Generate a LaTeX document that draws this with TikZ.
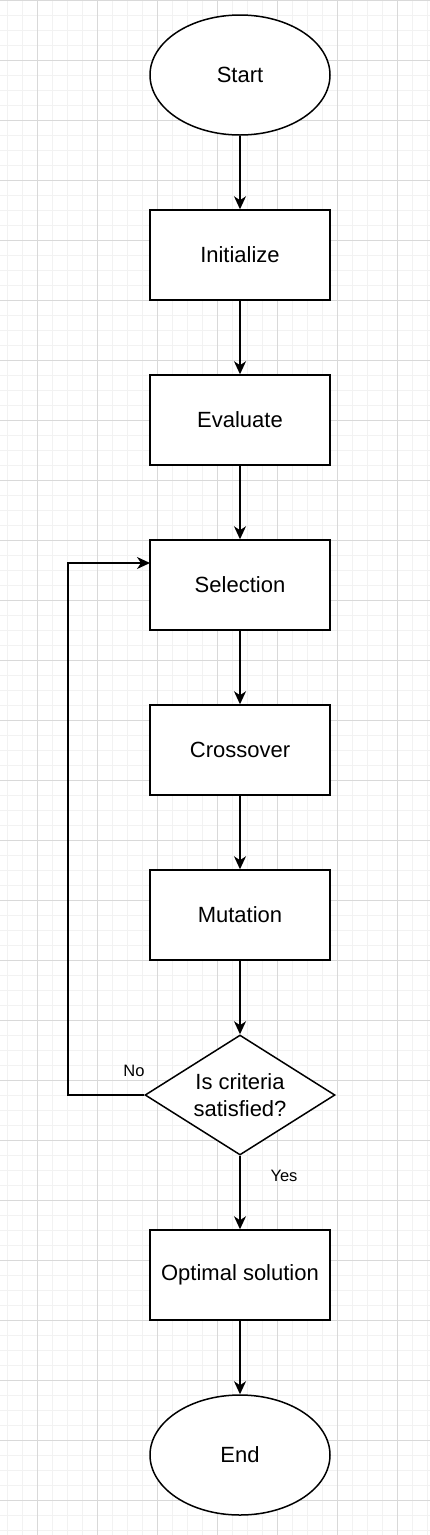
\documentclass[tikz,border=0pt]{standalone}
\usepackage{fontspec}
\setmainfont{Liberation Sans}
\usetikzlibrary{shapes.geometric,arrows.meta}
\begin{document}
\begin{tikzpicture}[x=1pt,y=-1pt,
        terminal/.style={draw,ellipse,line width=1.5pt,fill=white,minimum width=180pt,minimum height=120pt,inner sep=0pt,font=\fontsize{22}{27}\selectfont},
        process/.style={draw,rectangle,line width=1.5pt,fill=white,minimum width=180pt,minimum height=90pt,inner sep=0pt,font=\fontsize{22}{27}\selectfont},
        decision/.style={draw,diamond,aspect=1.58,line width=1.5pt,fill=white,minimum width=190pt,minimum height=120pt,inner sep=0pt,align=center,font=\fontsize{22}{27}\selectfont},
        flow/.style={line width=1.5pt,-{Stealth[length=13pt,width=12pt,inset=4pt]}},
        tag/.style={font=\fontsize{16.5}{20}\selectfont}]
                \useasboundingbox (0,0) rectangle (430,1535);
                \fill[white] (0,0) rectangle (430,1535);
                \foreach \x in {7.3,22.3,...,430} \draw[gray!10,line width=1pt] (\x,0) -- (\x,1535);
                \foreach \y in {15,30,...,1535} \draw[gray!10,line width=1pt] (0,\y) -- (430,\y);
                \foreach \x in {37.3,97.3,...,430} \draw[gray!30,line width=1pt] (\x,0) -- (\x,1535);
                \foreach \y in {0,60,...,1535} \draw[gray!30,line width=1pt] (0,\y) -- (430,\y);

                \node[terminal] (start) at (240,75) {Start};
                \node[process] (init) at (240,255) {Initialize};
                \node[process] (eval) at (240,420) {Evaluate};
                \node[process] (sel) at (240,585) {Selection};
                \node[process] (cross) at (240,750) {Crossover};
                \node[process] (mut) at (240,915) {Mutation};
                \node[decision] (crit) at (240,1095) {Is criteria\\satisfied?};
                \node[process] (opt) at (240,1275) {Optimal solution};
                \node[terminal] (end) at (240,1455) {End};

                \coordinate (loopcorner) at (68,563);
                \coordinate (loopin) at (150,563);

                \draw[flow] (start) -- (init);
                \draw[flow] (init) -- (eval);
                \draw[flow] (eval) -- (sel);
                \draw[flow] (sel) -- (cross);
                \draw[flow] (cross) -- (mut);
                \draw[flow] (mut) -- (crit);
                \draw[flow] (crit) -- (opt);
                \draw[flow] (opt) -- (end);
                \draw[flow] (crit.west) -| (loopcorner) -- (loopin);

                \node[tag] (no) at (134,1071) {No};
                \node[tag] (yes) at (284,1176) {Yes};
            \end{tikzpicture}
\end{document}
